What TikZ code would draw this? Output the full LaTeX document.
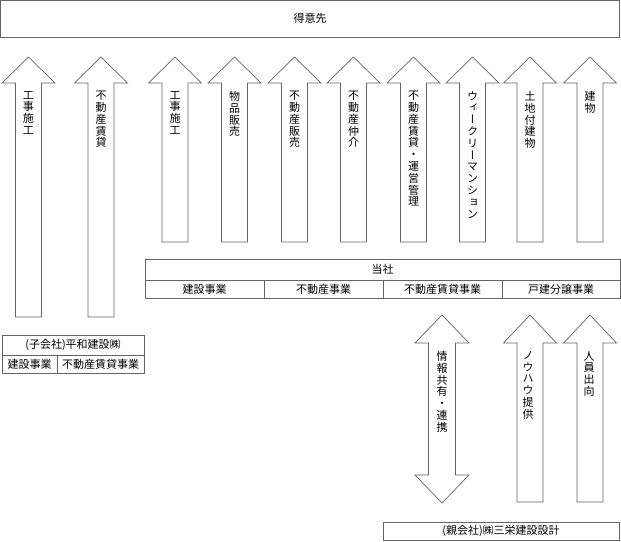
\documentclass[tikz,border=0pt]{standalone}
\usepackage{fontspec}
\setmainfont{Noto Sans CJK JP}
\newfontfamily\vjp[RawFeature=+vert]{Noto Sans CJK JP}
\definecolor{linec}{RGB}{100,100,100}
\tikzset{
  box/.style={draw=linec, line width=0.8pt, inner sep=0pt, font=\fontsize{11}{13}\selectfont},
  blockarrow/.style={draw=linec, line width=0.7pt, fill=white, line join=miter},
  vlabel/.style={anchor=north, align=center, inner sep=0pt, font=\vjp\fontsize{11}{11.8}\selectfont},
}
\newcommand\uparr[4]{% cx, tip, head base, bottom
  \draw[blockarrow] (#1,#2) -- (#1+26.5,#3) -- (#1+13,#3) -- (#1+13,#4) -- (#1-13,#4) -- (#1-13,#3) -- (#1-26.5,#3) -- cycle;}
\begin{document}
\begin{tikzpicture}[x=1pt,y=-1pt]
\useasboundingbox (0,0) rectangle (621,541);
% top box
\node[box, minimum width=619pt, minimum height=37pt] (client) at (310,18.5) {得意先};
% arrows from subsidiary
\uparr{28.5}{57}{83}{317}
\uparr{101}{57}{83}{317}
% arrows from company
\uparr{175}{57}{83}{242}
\uparr{234.5}{57}{83}{242}
\uparr{294.5}{57}{83}{242}
\uparr{353.5}{57}{83}{242}
\uparr{413.5}{57}{83}{242}
\uparr{472.5}{57}{83}{242}
\uparr{530}{57}{83}{242}
\uparr{590}{57}{83}{242}
\node[vlabel] (a1) at (28.5,91) {工\\事\\施\\工};
\node[vlabel] (a2) at (101,91) {不\\動\\産\\賃\\貸};
\node[vlabel] (a3) at (175,91) {工\\事\\施\\工};
\node[vlabel] (a4) at (234.5,91) {物\\品\\販\\売};
\node[vlabel] (a5) at (294.5,91) {不\\動\\産\\販\\売};
\node[vlabel] (a6) at (353.5,91) {不\\動\\産\\仲\\介};
\node[vlabel] (a7) at (413.5,91) {不\\動\\産\\賃\\貸\\・\\運\\営\\管\\理};
\node[vlabel] (a8) at (472.5,91) {ウ\\ィ\\ー\\ク\\リ\\ー\\マ\\ン\\シ\\ョ\\ン};
\node[vlabel] (a9) at (530,91) {土\\地\\付\\建\\物};
\node[vlabel] (a10) at (590,91) {建\\物};
% company table
\node[box, minimum width=475pt, minimum height=21pt] (tosha) at (382.5,269.5) {当社};
\node[box, minimum width=119pt, minimum height=18pt] (t1) at (204.5,289) {建設事業};
\node[box, minimum width=119pt, minimum height=18pt] (t2) at (323.5,289) {不動産事業};
\node[box, minimum width=119pt, minimum height=18pt] (t3) at (442.5,289) {不動産賃貸事業};
\node[box, minimum width=118pt, minimum height=18pt] (t4) at (561,289) {戸建分譲事業};
% subsidiary table
\node[box, minimum width=142pt, minimum height=20pt] (sub) at (73,345) {(子会社)平和建設㈱};
\node[box, minimum width=55pt, minimum height=18pt] (s1) at (29.5,364) {建設事業};
\node[box, minimum width=87pt, minimum height=18pt] (s2) at (100.5,364) {不動産賃貸事業};
% lower arrows
\draw[blockarrow] (442,315) -- (469,343) -- (455.5,343) -- (455.5,475) -- (469,475) -- (442,503)
  -- (415,475) -- (428.5,475) -- (428.5,343) -- (415,343) -- cycle;
\uparr{530}{315}{343}{502}
\uparr{590}{315}{343}{502}
\node[vlabel] (b1) at (442,351) {情\\報\\共\\有\\・\\連\\携};
\node[vlabel] (b2) at (528,351) {ノ\\ウ\\ハ\\ウ\\提\\供};
\node[vlabel] (b3) at (589,351) {人\\員\\出\\向};
% parent box
\node[box, minimum width=236pt, minimum height=18pt] (parent) at (501,531) {(親会社)㈱三栄建設設計};
\end{tikzpicture}
\end{document}
